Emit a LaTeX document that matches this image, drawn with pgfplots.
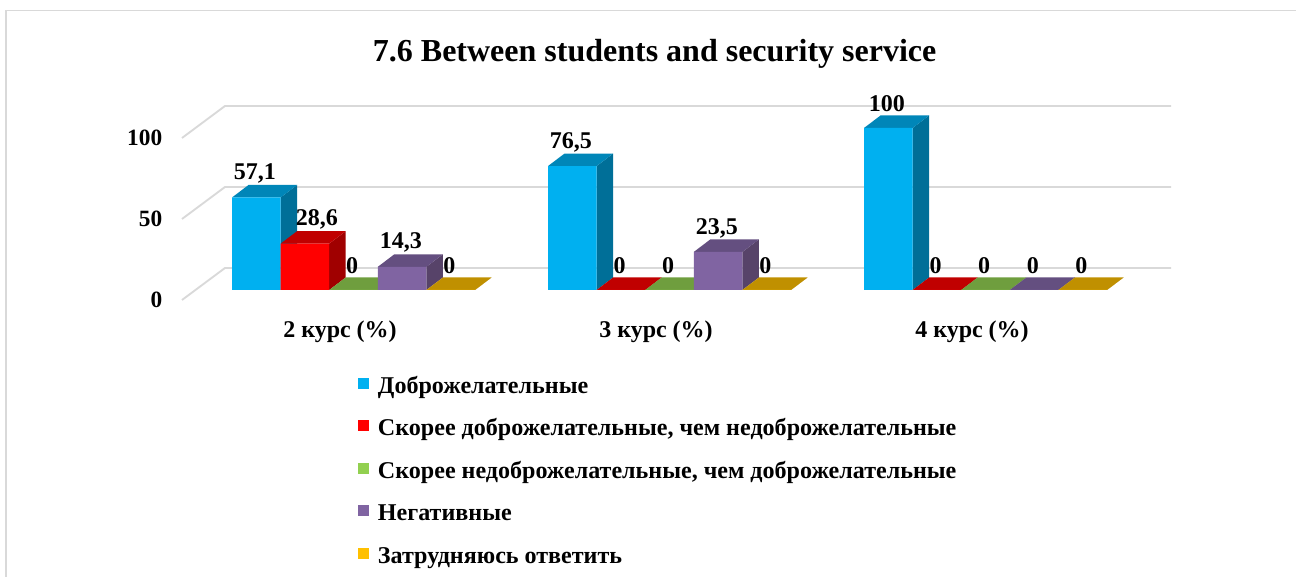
\documentclass[border=0pt]{standalone}
\usepackage{fontspec}
\setmainfont{Liberation Serif}
\usepackage{pgfplots}
\usepackage{pgfplotstable}
\pgfplotsset{compat=1.18}

% 1 px of the reference = 0.75pt
\definecolor{gridc}{HTML}{D9D9D9}
\definecolor{blueF}{HTML}{00B0F0}
\definecolor{blueS}{HTML}{006F98}
\definecolor{blueT}{HTML}{0086B8}
\definecolor{redF}{HTML}{FF0000}
\definecolor{redS}{HTML}{A00000}
\definecolor{redT}{HTML}{C00000}
\definecolor{greenF}{HTML}{92D050}
\definecolor{greenS}{HTML}{5F8A36}
\definecolor{greenT}{HTML}{6F9E3E}
\definecolor{purpF}{HTML}{8064A2}
\definecolor{purpS}{HTML}{574369}
\definecolor{purpT}{HTML}{644F80}
\definecolor{goldF}{HTML}{FFC000}
\definecolor{goldS}{HTML}{A07800}
\definecolor{goldT}{HTML}{C09000}

\pgfplotstableread{
x a b c d e
0 57.1 28.6 0 14.3 0
1 76.5 0 0 23.5 0
2 100 0 0 0 0
}\data

\def\bw{0.1538}   % bar width, in groups
\def\dpx{0.0522}  % bar depth, x
\def\dpy{7.716}   % bar depth, y

% side and top faces of one series
\newcommand{\faces}[4]{%
  \pgfplotsforeachungrouped \g in {0,1,2}{%
    \pgfplotstablegetelem{\g}{#2}\of\data
    \pgfmathsetmacro\val{\pgfplotsretval}%
    \pgfmathsetmacro\xa{\g+(#1-2.5)*\bw}%
    \pgfmathsetmacro\xb{\xa+\bw}%
    \pgfmathsetmacro\xc{\xa+\dpx}%
    \pgfmathsetmacro\xd{\xb+\dpx}%
    \pgfmathsetmacro\vt{\val+\dpy}%
    \edef\temp{\noexpand\addplot[forget plot,draw=none,fill=#3,depth shift]
      coordinates {(\xb,0) (\xd,\dpy) (\xd,\vt) (\xb,\val)};}\temp
    \edef\temp{\noexpand\addplot[forget plot,draw=none,fill=#4,depth shift]
      coordinates {(\xa,\val) (\xb,\val) (\xd,\vt) (\xc,\vt)};}\temp
  }%
}

% front faces of one series, with its labels and legend entry
\newcommand{\front}[5]{%
  \addplot[ybar,bar width=36.45pt,bar shift={(#1-2)*36.45pt},draw=none,fill=#3,depth shift,
    square legend,nodes near coords,
    visualization depends on={\coordindex \as \ci},
    every node near coord/.append style={xshift={(#1-2)*36.45+(\ci==0 ? #4 : -1)}}]
    table[x=x,y=#2] {\data};
  \addlegendentry{#5}
}

\begin{document}
\begin{tikzpicture}
\useasboundingbox (0,0) rectangle (972pt,432.75pt);
\draw[gridc,line width=1.4pt] (4.5pt,0) -- (4.5pt,424.9pt) -- (972pt,424.9pt);
\begin{axis}[
    at={(136.5pt,207.75pt)},anchor=south west,
    scale only axis,width=711pt,height=121.5pt,
    xmin=-0.5,xmax=2.5,ymin=0,ymax=100,
    clip=false,
    axis line style={draw=none},
    tick style={draw=none},
    major tick length=0pt,
    xtick={0,1,2},
    xticklabels={2 курс (\%),3 курс (\%),4 курс (\%)},
    ytick={0,50,100},
    yticklabels={0,50,100},
    xticklabel style={font=\bfseries\fontsize{18pt}{20pt}\selectfont,anchor=center,yshift=-24pt},
    yticklabel style={font=\bfseries\fontsize{17.5pt}{20pt}\selectfont,anchor=east,xshift=-11.3pt},
    title={7.6 Between students and security service},
    title style={font=\bfseries\fontsize{24pt}{28pt}\selectfont,anchor=center,at={(0.5,1)},yshift=57pt,xshift=-1pt},
    /pgf/number format/.cd,use comma,fixed,assume math mode=true,
    /pgfplots/.cd,
    depth shift/.style={xshift=10.125pt,yshift=7.5pt},
    square legend/.style={legend image code/.code={\fill[##1,draw=none] (0pt,-8pt) rectangle (8.25pt,0.25pt);}},
    nodes near coords style={font=\bfseries\fontsize{18pt}{20pt}\selectfont,anchor=center,yshift=18pt,text=black},
    legend cell align=left,
    legend style={at={(0.1857,-0.467)},anchor=north west,draw=none,fill=none,
      font=\bfseries\fontsize{18.05pt}{20pt}\selectfont,
      row sep=13.9pt,column sep=5.5pt,inner sep=0pt,
      nodes={inner sep=1pt,text height=12pt,text depth=4pt}},
]
% gridlines on the left and back walls
\addplot[forget plot,gridc,line width=1.4pt] coordinates {(-0.5,0) (-0.364,19.75) (2.63,19.75)};
\addplot[forget plot,gridc,line width=1.4pt] coordinates {(-0.5,50) (-0.364,69.75) (2.63,69.75)};
\addplot[forget plot,gridc,line width=1.4pt] coordinates {(-0.5,100) (-0.364,119.75) (2.63,119.75)};

\faces{0}{a}{blueS}{blueT}
\front{0}{a}{blueF}{-1}{Доброжелательные}
\faces{1}{b}{redS}{redT}
\front{1}{b}{redF}{9}{Скорее доброжелательные, чем недоброжелательные}
\faces{2}{c}{greenS}{greenT}
\front{2}{c}{greenF}{-1}{Скорее недоброжелательные, чем доброжелательные}
\faces{3}{d}{purpS}{purpT}
\front{3}{d}{purpF}{-1}{Негативные}
\faces{4}{e}{goldS}{goldT}
\front{4}{e}{goldF}{-1}{Затрудняюсь ответить}
\end{axis}
\end{tikzpicture}
\end{document}
